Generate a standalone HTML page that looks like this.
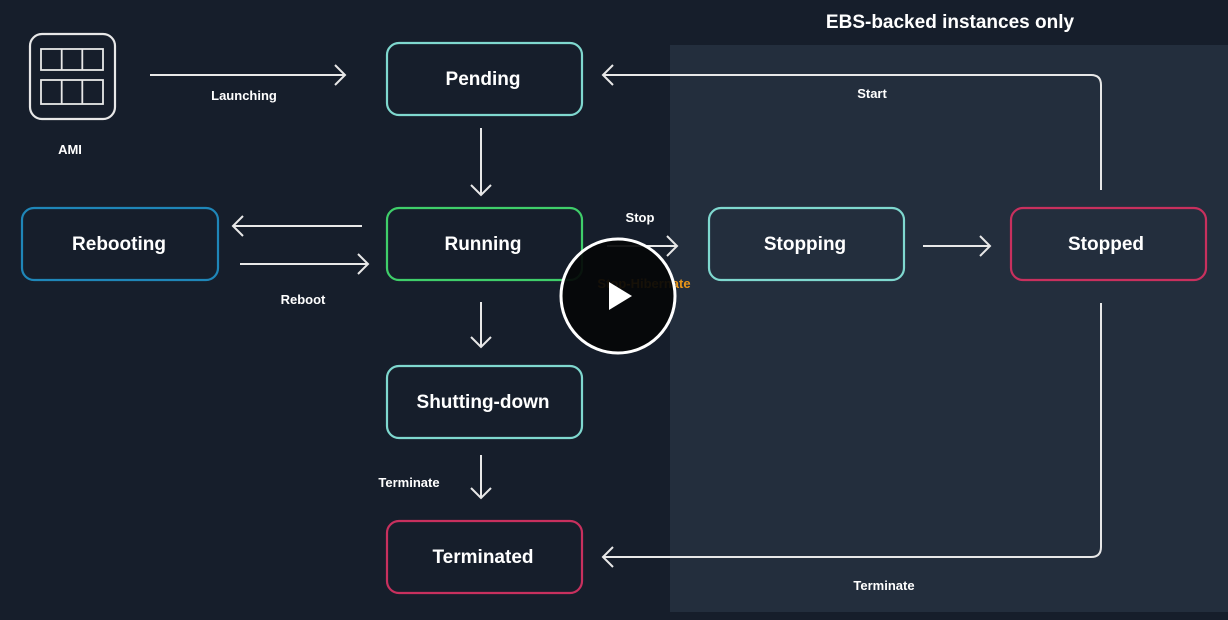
<!DOCTYPE html>
<html><head><style>
html,body{margin:0;padding:0;background:#161e2b;}
svg{display:block}
text{font-family:"Liberation Sans",sans-serif;font-weight:bold;fill:#fff;}
</style></head><body>
<svg width="1228" height="620" viewBox="0 0 1228 620">
<rect width="1228" height="620" fill="#161e2b"/>
<rect x="670" y="45" width="558" height="567" fill="#232e3d"/>
<text x="950" y="28" font-size="19" text-anchor="middle">EBS-backed instances only</text>
<g fill="none" stroke-width="2.2">
<rect x="30" y="34" width="85" height="85" rx="12" stroke="#e8e8e8"/>
<rect x="41" y="49" width="62" height="21" stroke="#e8e8e8" stroke-width="1.8"/>
<line x1="61.7" y1="49" x2="61.7" y2="70" stroke="#e8e8e8" stroke-width="1.8"/>
<line x1="82.3" y1="49" x2="82.3" y2="70" stroke="#e8e8e8" stroke-width="1.8"/>
<rect x="41" y="80" width="62" height="24" stroke="#e8e8e8" stroke-width="1.8"/>
<line x1="61.7" y1="80" x2="61.7" y2="104" stroke="#e8e8e8" stroke-width="1.8"/>
<line x1="82.3" y1="80" x2="82.3" y2="104" stroke="#e8e8e8" stroke-width="1.8"/>
<rect x="387" y="43" width="195" height="72" rx="12" stroke="#7fd8cf"/>
<rect x="387" y="208" width="195" height="72" rx="12" stroke="#3fce6a"/>
<rect x="22" y="208" width="196" height="72" rx="12" stroke="#1f86b8"/>
<rect x="387" y="366" width="195" height="72" rx="12" stroke="#7fd8cf"/>
<rect x="387" y="521" width="195" height="72" rx="12" stroke="#c8305e"/>
<rect x="709" y="208" width="195" height="72" rx="12" stroke="#7fd8cf"/>
<rect x="1011" y="208" width="195" height="72" rx="12" stroke="#c8305e"/>
</g>
<g fill="none" stroke="#e8e8e8" stroke-width="2">
<path d="M150 75H345M335 65L345 75L335 85"/>
<path d="M481 128V195M471 185L481 195L491 185"/>
<path d="M362 226H233M243 216L233 226L243 236"/>
<path d="M240 264H368M358 254L368 264L358 274"/>
<path d="M481 302V347M471 337L481 347L491 337"/>
<path d="M481 455V498M471 488L481 498L491 488"/>
<path d="M607 246H677M667 236L677 246L667 256"/>
<path d="M923 246H990M980 236L990 246L980 256"/>
<path d="M1101 190V85Q1101 75 1091 75H603M613 65L603 75L613 85"/>
<path d="M1101 303V547Q1101 557 1091 557H603M613 547L603 557L613 567"/>
</g>
<g font-size="19" text-anchor="middle">
<text x="483" y="85">Pending</text>
<text x="483" y="250">Running</text>
<text x="119" y="250">Rebooting</text>
<text x="483" y="408">Shutting-down</text>
<text x="483" y="563">Terminated</text>
<text x="805" y="250">Stopping</text>
<text x="1106" y="250">Stopped</text>
</g>
<g font-size="13" text-anchor="middle">
<text x="244" y="100">Launching</text>
<text x="70" y="154">AMI</text>
<text x="303" y="304">Reboot</text>
<text x="640" y="222">Stop</text>
<text x="409" y="487">Terminate</text>
<text x="872" y="98">Start</text>
<text x="884" y="590">Terminate</text>
<text x="644" y="288" style="fill:#e8951a">Stop-Hibernate</text>
</g>
<circle cx="618" cy="296" r="57" fill="#050608" fill-opacity="0.93" stroke="#fff" stroke-width="3"/>
<path d="M609 282L632 296L609 310Z" fill="#fff"/>
</svg>
</body></html>
